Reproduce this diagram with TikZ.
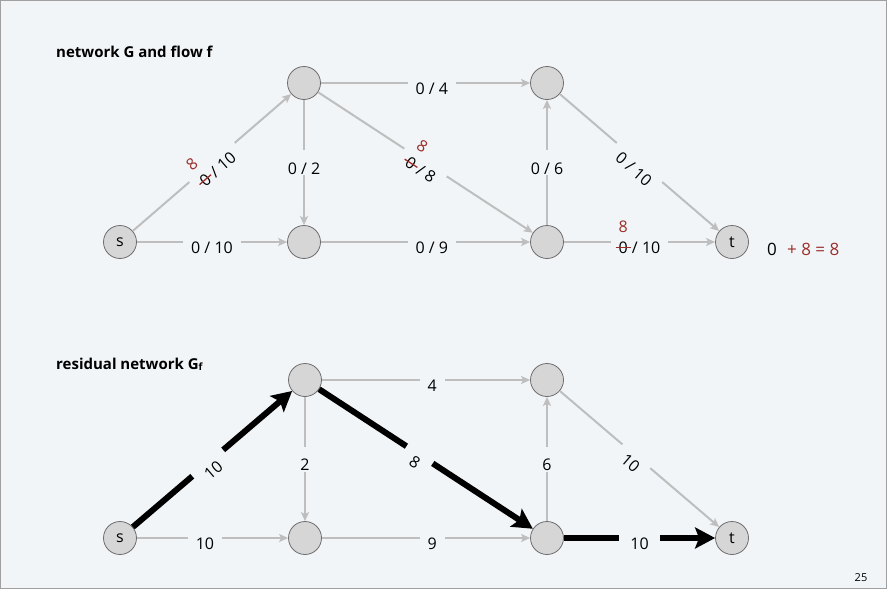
\documentclass[tikz,border=0pt]{standalone}
\usepackage{fontspec}
\setmainfont{Open Sans}
\usetikzlibrary{arrows.meta}
\definecolor{bgcol}{RGB}{242,245,248}
\definecolor{framecol}{RGB}{160,160,160}
\definecolor{edgecol}{RGB}{190,190,190}
\definecolor{nodefill}{RGB}{214,214,214}
\definecolor{nodeline}{RGB}{110,110,110}
\definecolor{flowred}{RGB}{155,45,40}
\newcommand{\flowchg}[2]{\ooalign{#1\cr\hidewidth\smash{\raisebox{1.3em}{\color{flowred}#2}}\hidewidth\cr\hidewidth\color{flowred}\rule[0.33em]{0.95em}{0.08em}\hidewidth\cr}}
\tikzset{
  vtx/.style={circle, draw=nodeline, fill=nodefill, line width=0.8pt, minimum size=33pt, inner sep=0pt, font=\fontsize{16}{19}\selectfont},
  edge/.style={draw=edgecol, line width=2pt, -{Stealth[length=9pt,width=8pt,inset=2pt]}},
  aug/.style={draw=black, line width=6pt, -{Stealth[length=20pt,width=21pt,inset=4pt]}},
  lbl/.style={fill=bgcol, inner xsep=8pt, inner ysep=1pt, text height=23pt, text depth=0pt, font=\fontsize{16}{19}\selectfont},
  slbl/.style={lbl, sloped, inner xsep=9pt, text height=29pt},
  auglbl/.style={slbl, inner xsep=11pt},
  title/.style={anchor=west, font=\bfseries\fontsize{15}{18}\selectfont, inner sep=0pt},
}
\begin{document}
\begin{tikzpicture}[x=1pt,y=-1pt]
\fill[bgcol] (0,0) rectangle (887,589);
\useasboundingbox (0,0) rectangle (887,589);
\draw[framecol, line width=1pt] (0.5,0.5) rectangle (886.5,588.5);

% titles
\node[title] (t1title) at (56,52) {network G and flow f};
\node[title] (t2title) at (56,364) {residual network G{\fontsize{10}{12}\selectfont\raisebox{-1pt}{f}}};

% top network
\node[vtx] (s1) at (120,242) {s};
\node[vtx] (a1) at (304,83) {};
\node[vtx] (b1) at (304,242) {};
\node[vtx] (c1) at (547,83) {};
\node[vtx] (d1) at (547,242) {};
\node[vtx] (t1) at (732,242) {t};

\draw[edge] (s1) -- node[slbl] {\flowchg{0}{8} / 10} (a1);
\draw[edge] (s1) -- node[lbl] {0 / 10} (b1);
\draw[edge] (a1) -- node[lbl] {0 / 2} (b1);
\draw[edge] (a1) -- node[lbl, pos=0.53] {0 / 4} (c1);
\draw[edge] (a1) -- node[slbl] {\flowchg{0}{8} / 8} (d1);
\draw[edge] (b1) -- node[lbl, pos=0.53] {0 / 9} (d1);
\draw[edge] (d1) -- node[lbl] {0 / 6} (c1);
\draw[edge] (c1) -- node[slbl] {0 / 10} (t1);
\draw[edge] (d1) -- node[lbl] {\flowchg{0}{8} / 10} (t1);

\node[anchor=west, inner sep=0pt, font=\fontsize{17}{20}\selectfont] (val) at (767,249) {0\hspace{0.6em}{\color{flowred}+ 8 = 8}};

% bottom residual network
\node[vtx] (s2) at (120,538) {s};
\node[vtx] (a2) at (305,380) {};
\node[vtx] (b2) at (305,538) {};
\node[vtx] (c2) at (547,380) {};
\node[vtx] (d2) at (547,538) {};
\node[vtx] (t2) at (732,538) {t};

\draw[aug] (s2) -- node[auglbl, pos=0.47] {10} (a2);
\draw[edge] (s2) -- node[lbl, pos=0.45] {10} (b2);
\draw[edge] (a2) -- node[lbl] {2} (b2);
\draw[edge] (a2) -- node[lbl, pos=0.53] {4} (c2);
\draw[aug] (a2) -- node[auglbl, pos=0.47] {8} (d2);
\draw[edge] (b2) -- node[lbl, pos=0.53] {9} (d2);
\draw[edge] (d2) -- node[lbl] {6} (c2);
\draw[edge] (c2) -- node[slbl, pos=0.48] {10} (t2);
\draw[aug] (d2) -- node[lbl, inner xsep=11pt] {10} (t2);

\node[inner sep=0pt, font=\fontsize{11}{13}\selectfont] (pg) at (861,578) {25};
\end{tikzpicture}
\end{document}
